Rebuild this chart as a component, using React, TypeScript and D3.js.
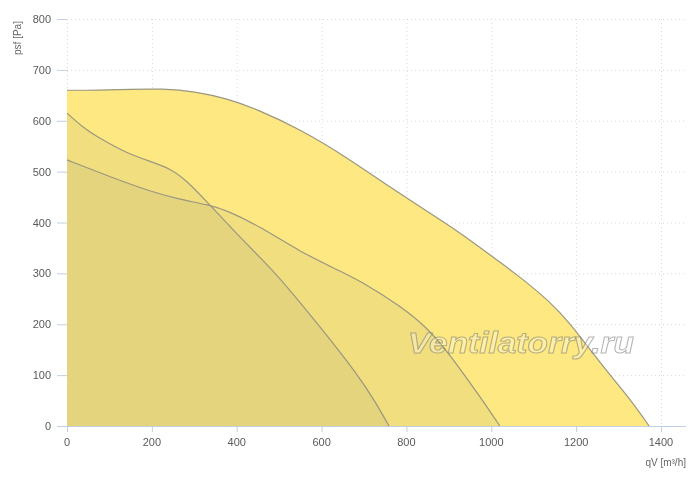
import * as d3 from "d3"

// fan curves: [qV m³/h, psf Pa]
const curveLarge: [number, number][] = [
  [0, 660], [75, 660], [150, 662], [225, 663], [300, 658], [380, 643], [450, 622],
  [550, 583], [660, 528], [760, 470], [860, 416], [930, 378], [1020, 322], [1060, 298],
  [1138, 245], [1187, 200], [1230, 153], [1280, 100], [1330, 50], [1372, 0],
]
const curveMid: [number, number][] = [
  [0, 523], [101, 490], [200, 460], [258, 447], [337, 434], [376, 424], [455, 392],
  [550, 342], [650, 302], [708, 277], [785, 236], [843, 198], [895, 148], [935, 102],
  [980, 50], [1020, 0],
]
const curveSmall: [number, number][] = [
  [0, 615], [40, 585], [78, 565], [141, 536], [200, 519], [243, 506], [282, 483],
  [337, 434], [392, 385], [462, 325], [494, 298], [592, 200], [686, 100], [725, 50], [759, 0],
]

const xTicks = [0, 200, 400, 600, 800, 1000, 1200, 1400]
const yTicks = [0, 100, 200, 300, 400, 500, 600, 700, 800]

const W = 700
const H = 484
const font = "'Liberation Sans', Arial, sans-serif"

export default function App() {
  const x = d3.scaleLinear().domain([0, 1400]).range([67, 661])
  const y = d3.scaleLinear().domain([0, 800]).range([426, 19])
  const plotRight = 686

  const area = d3
    .area<[number, number]>()
    .x((d) => x(d[0]))
    .y0(y(0))
    .y1((d) => y(d[1]))
    .curve(d3.curveBasis)
  const line = d3
    .line<[number, number]>()
    .x((d) => x(d[0]))
    .y((d) => y(d[1]))
    .curve(d3.curveBasis)

  const series = [
    { data: curveLarge, fill: "#FEE881", blend: "normal" },
    { data: curveMid, fill: "rgb(242,244,252)", blend: "multiply" },
    { data: curveSmall, fill: "rgb(242,244,252)", blend: "multiply" },
  ]

  return (
    <svg width={W} height={H} style={{ position: "absolute", left: 0, top: 0, background: "#fff" }}>
      {/* grid */}
      <g stroke="#d8d8d8" strokeWidth={1} strokeDasharray="1,3">
        {yTicks.slice(1).map((t) => (
          <line key={"gy" + t} x1={x(0)} x2={plotRight} y1={y(t) + 0.5} y2={y(t) + 0.5} />
        ))}
        {xTicks.map((t) => (
          <line key={"gx" + t} x1={x(t) + 0.5} x2={x(t) + 0.5} y1={y(800)} y2={y(0)} />
        ))}
      </g>

      {/* areas */}
      {series.map((s, i) => (
        <g key={i} style={{ mixBlendMode: s.blend as any }}>
          <path d={area(s.data) ?? ""} fill={s.fill} />
        </g>
      ))}
      {series.map((s, i) => (
        <path key={"l" + i} d={line(s.data) ?? ""} fill="none" stroke="#9b9780" strokeWidth={1.2} />
      ))}

      {/* axes */}
      <g stroke="#c0d0e0" strokeWidth={1}>
        {yTicks.map((t) => (
          <line key={"ty" + t} x1={57} x2={67} y1={y(t) + 0.5} y2={y(t) + 0.5} />
        ))}
        <line x1={57} x2={plotRight} y1={y(0) + 0.5} y2={y(0) + 0.5} />
        {xTicks.map((t) => (
          <line key={"tx" + t} x1={x(t) + 0.5} x2={x(t) + 0.5} y1={y(0)} y2={y(0) + 6} />
        ))}
      </g>
      <g fontFamily={font} fontSize={11} fill="#5a5a5a">
        {yTicks.map((t) => (
          <text key={"ly" + t} x={51} y={y(t) + 4} textAnchor="end">
            {t}
          </text>
        ))}
        {xTicks.map((t) => (
          <text key={"lx" + t} x={x(t)} y={y(0) + 20} textAnchor="middle">
            {t}
          </text>
        ))}
      </g>
      <text x={686} y={466} textAnchor="end" fontFamily={font} fontSize={10} fill="#666">
        qV [m³/h]
      </text>
      <text
        transform="translate(21,38) rotate(-90)"
        textAnchor="middle"
        fontFamily={font}
        fontSize={10}
        fill="#666"
      >
        psf [Pa]
      </text>

      {/* watermark */}
      <text
        x={408}
        y={353}
        textLength={226}
        lengthAdjust="spacingAndGlyphs"
        fontFamily={font}
        fontSize={30}
        fontWeight="bold"
        fontStyle="italic"
        fill="rgba(255,255,255,0.3)"
        stroke="rgba(110,110,110,0.5)"
        strokeWidth={1}
      >
        Ventilatorry.ru
      </text>
    </svg>
  )
}
